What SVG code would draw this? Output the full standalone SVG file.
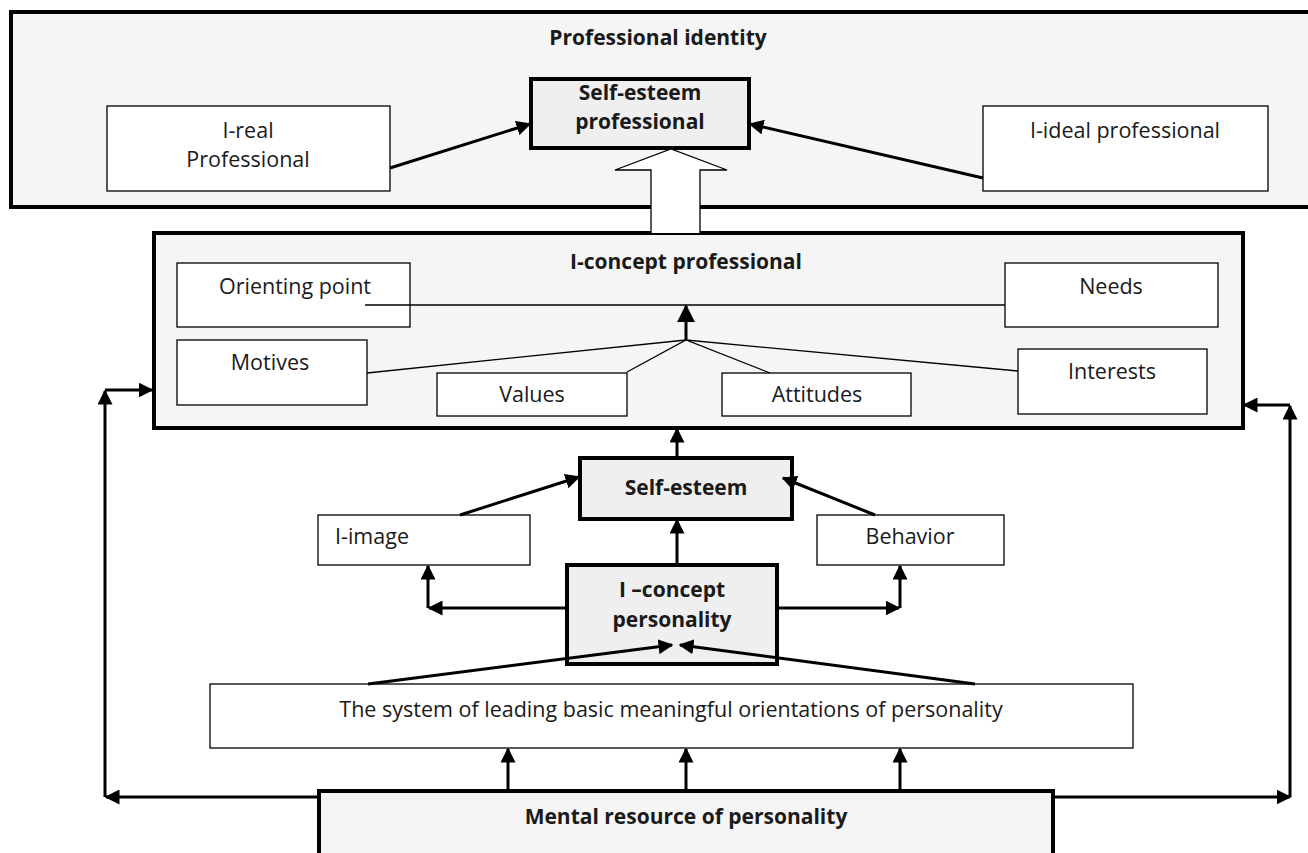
<svg xmlns="http://www.w3.org/2000/svg" width="1308" height="853" viewBox="0 0 1308 853">
<defs>
<marker id="ah" viewBox="0 0 10 10" refX="9" refY="5" markerWidth="5" markerHeight="5" orient="auto" markerUnits="strokeWidth"><path d="M0,0 L10,5 L0,10 z" fill="#000"/></marker>
<marker id="ahs" viewBox="0 0 10 10" refX="9" refY="5" markerWidth="6" markerHeight="6" orient="auto" markerUnits="strokeWidth"><path d="M0,0 L10,5 L0,10 z" fill="#000"/></marker>
</defs>
<style>
.frame{fill:#f5f5f5;stroke:#000;stroke-width:4}
.thick{fill:#efefef;stroke:#000;stroke-width:4}
.box{fill:#fff;stroke:#000;stroke-width:1.3}
.t{font-family:"Open Sans","Liberation Sans",sans-serif;font-size:21.5px;fill:#1a1a1a;text-anchor:middle}
.b{font-weight:bold;font-size:21px}
.c{fill:none;stroke:#000;stroke-width:3}
.thin{fill:none;stroke:#000;stroke-width:1.3}
</style>
<rect width="1308" height="853" fill="#fff"/>

<g id="professional-identity">
<rect class="frame" x="11" y="12" width="1310" height="195"/>
<text class="t b" x="658" y="45">Professional identity</text>
</g>
<g id="self-esteem-professional">
<rect class="thick" x="531" y="79" width="218" height="69"/>
<text class="t b" x="640" y="100">Self-esteem</text>
<text class="t b" x="640" y="129">professional</text>
</g>
<g id="i-real">
<rect class="box" x="107" y="106" width="283" height="85"/>
<text class="t" x="248" y="138">I-real</text>
<text class="t" x="248" y="167">Professional</text>
</g>
<g id="i-ideal">
<rect class="box" x="983" y="106" width="285" height="85"/>
<text class="t" x="1125" y="138">I-ideal professional</text>
</g>

<g id="i-concept-professional">
<rect class="frame" x="154" y="233" width="1089" height="195"/>
<text class="t b" x="686" y="269">I-concept professional</text>
</g>
<g id="orienting-point"><rect class="box" x="177" y="263" width="233" height="64"/><text class="t" x="295" y="294">Orienting point</text></g>
<g id="needs"><rect class="box" x="1005" y="263" width="213" height="64"/><text class="t" x="1111" y="294">Needs</text></g>
<g id="motives"><rect class="box" x="177" y="340" width="190" height="65"/><text class="t" x="270" y="370">Motives</text></g>
<g id="values"><rect class="box" x="437" y="373" width="190" height="43"/><text class="t" x="532" y="402">Values</text></g>
<g id="attitudes"><rect class="box" x="722" y="373" width="189" height="43"/><text class="t" x="817" y="402">Attitudes</text></g>
<g id="interests"><rect class="box" x="1018" y="349" width="189" height="65"/><text class="t" x="1112" y="379">Interests</text></g>

<g id="self-esteem"><rect class="thick" x="580" y="458" width="212" height="61"/><text class="t b" x="686" y="495">Self-esteem</text></g>
<g id="i-image"><rect class="box" x="318" y="515" width="212" height="50"/><text class="t" x="372" y="544">I-image</text></g>
<g id="behavior"><rect class="box" x="817" y="515" width="187" height="50"/><text class="t" x="910" y="544">Behavior</text></g>
<g id="i-concept-personality"><rect class="thick" x="567" y="565" width="210" height="99"/><text class="t b" x="672" y="597">I –concept</text><text class="t b" x="672" y="627">personality</text></g>
<g id="system"><rect class="box" x="210" y="684" width="923" height="64"/><text class="t" x="671" y="717">The system of leading basic meaningful orientations of personality</text></g>
<g id="mental-resource"><rect class="thick" x="319" y="791" width="734" height="70" style="fill:#f5f5f5"/><text class="t b" x="686" y="824">Mental resource of personality</text></g>

<g id="connectors">
<path class="c" d="M390,168 L530,124" marker-end="url(#ah)"/>
<path class="c" d="M983,178 L750,124" marker-end="url(#ah)"/>
<path d="M651,233 L651,170 L615,170 L671,149 L727,170 L700,170 L700,233" fill="#fff" stroke="#000" stroke-width="1.3"/>
<path class="thin" d="M365,305 L1005,305"/>
<path class="thin" d="M367,373 L686,340 L1018,371"/>
<path class="thin" d="M627,372 L686,340 L770,373"/>
<path class="c" d="M686,340 L686,306" stroke-width="2" marker-end="url(#ahs)"/>
<path class="c" d="M677,458 L677,429" marker-end="url(#ah)"/>
<path class="c" d="M460,515 L579,477" marker-end="url(#ah)"/>
<path class="c" d="M875,515 L783,478" marker-end="url(#ah)"/>
<path class="c" d="M677,565 L677,520" marker-end="url(#ah)"/>
<path class="c" d="M567,608 L429,608" marker-end="url(#ah)"/>
<path class="c" d="M428,608 L428,566" marker-end="url(#ah)"/>
<path class="c" d="M777,608 L899,608" marker-end="url(#ah)"/>
<path class="c" d="M900,608 L900,566" marker-end="url(#ah)"/>
<path class="c" d="M368,684 L672,645" marker-end="url(#ah)"/>
<path class="c" d="M975,684 L680,645" marker-end="url(#ah)"/>
<path class="c" d="M508,790 L508,749" marker-end="url(#ah)"/>
<path class="c" d="M686,790 L686,749" marker-end="url(#ah)"/>
<path class="c" d="M900,790 L900,749" marker-end="url(#ah)"/>
<path class="c" d="M318,797 L106,797" marker-end="url(#ah)"/>
<path class="c" d="M105,797 L105,391" marker-end="url(#ah)"/>
<path class="c" d="M105,390 L152,390" marker-end="url(#ah)"/>
<path class="c" d="M1053,797 L1290,797" marker-end="url(#ah)"/>
<path class="c" d="M1290,797 L1290,406" marker-end="url(#ah)"/>
<path class="c" d="M1290,405 L1244,405" marker-end="url(#ah)"/>
</g>
</svg>
